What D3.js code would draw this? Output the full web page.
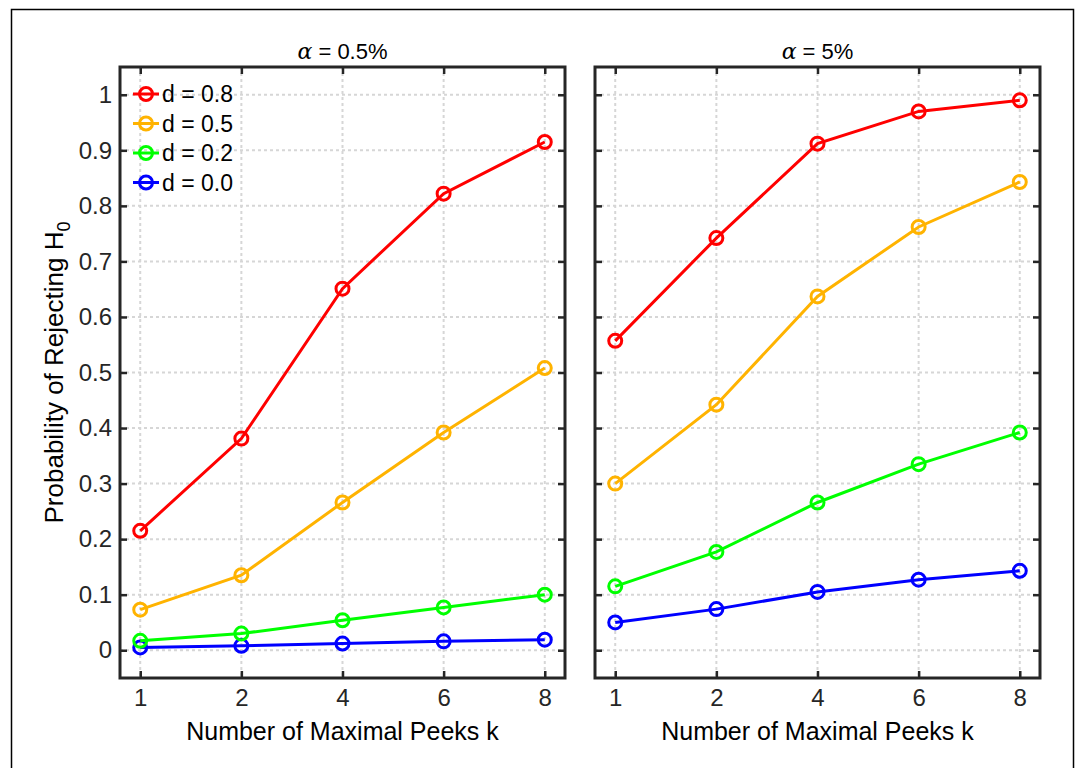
<!DOCTYPE html>
<html>
<head>
<meta charset="utf-8">
<script src="https://cdn.jsdelivr.net/npm/d3@7"></script>
<style>
  body { margin: 0; background: #fff; }
  svg { display: block; font-family: "Liberation Sans", Arial, Helvetica, sans-serif; }
  .tick text { fill: #262626; }
</style>
</head>
<body>
<script>
// x categories (equally spaced in the plot)
const kValues = [1, 2, 4, 6, 8];
const yTicks = [0, 0.1, 0.2, 0.3, 0.4, 0.5, 0.6, 0.7, 0.8, 0.9, 1];

const seriesNames = ["d = 0.8", "d = 0.5", "d = 0.2", "d = 0.0"];
const seriesColors = ["#ff0000", "#ffb300", "#00ff00", "#0000ff"];

// alpha = 0.5%
const a05_d08 = [0.215, 0.381, 0.651, 0.822, 0.915];
const a05_d05 = [0.073, 0.135, 0.266, 0.392, 0.508];
const a05_d02 = [0.017, 0.030, 0.054, 0.077, 0.100];
const a05_d00 = [0.005, 0.008, 0.012, 0.016, 0.019];

// alpha = 5%
const a5_d08 = [0.557, 0.742, 0.912, 0.970, 0.990];
const a5_d05 = [0.300, 0.442, 0.637, 0.762, 0.843];
const a5_d02 = [0.115, 0.177, 0.266, 0.335, 0.392];
const a5_d00 = [0.050, 0.074, 0.105, 0.127, 0.143];

const panels = [
  { title: "0.5%", series: [a05_d08, a05_d05, a05_d02, a05_d00], left: 120, first: true },
  { title: "5%", series: [a5_d08, a5_d05, a5_d02, a5_d00], left: 595, first: false }
];

const width = 1078, height = 768;
const plotW = 445, plotTop = 67, plotH = 611;
const axisColor = "#262626";

const svg = d3.select("body").append("svg")
  .attr("width", width)
  .attr("height", height);

// outer figure frame
svg.append("rect")
  .attr("x", 11.5).attr("y", 9.5)
  .attr("width", 1062).attr("height", 800)
  .attr("fill", "none").attr("stroke", "#000").attr("stroke-width", 1.5);

const y = d3.scaleLinear().domain([-0.05, 1.05]).range([plotH, 0]);
const yFmt = d => (d === 0 || d === 1) ? String(d) : d3.format(".1f")(d);

panels.forEach(p => {
  const x = d3.scalePoint().domain(kValues).range([0, plotW]).padding(0.2);
  const g = svg.append("g").attr("transform", `translate(${p.left},${plotTop})`);

  // grid
  const grid = g.append("g")
    .attr("stroke", "#d6d6d6").attr("stroke-width", 2)
    .attr("stroke-dasharray", "3,3");
  grid.selectAll(".gx").data(kValues).enter().append("line")
    .attr("x1", d => x(d)).attr("x2", d => x(d))
    .attr("y1", 0).attr("y2", plotH);
  grid.selectAll(".gy").data(yTicks).enter().append("line")
    .attr("x1", 0).attr("x2", plotW)
    .attr("y1", d => y(d)).attr("y2", d => y(d));

  // axes (ticks pointing in)
  const styleAxis = sel => {
    sel.attr("font-family", null);
    sel.select(".domain").remove();
    sel.selectAll(".tick line").attr("stroke", axisColor).attr("stroke-width", 2.5);
    sel.selectAll(".tick text").attr("font-size", 24);
  };
  g.append("g").attr("transform", `translate(0,${plotH})`)
    .call(d3.axisBottom(x).tickSizeInner(-7).tickSizeOuter(0).tickPadding(11))
    .call(styleAxis);
  g.append("g")
    .call(d3.axisTop(x).tickSizeInner(-7).tickSizeOuter(0).tickFormat(""))
    .call(styleAxis);
  g.append("g")
    .call(d3.axisLeft(y).tickValues(yTicks).tickFormat(p.first ? yFmt : "")
      .tickSizeInner(-7).tickSizeOuter(0).tickPadding(8))
    .call(styleAxis);
  g.append("g").attr("transform", `translate(${plotW},0)`)
    .call(d3.axisRight(y).tickValues(yTicks).tickFormat("").tickSizeInner(-7).tickSizeOuter(0))
    .call(styleAxis);

  g.append("rect")
    .attr("width", plotW).attr("height", plotH)
    .attr("fill", "none").attr("stroke", axisColor).attr("stroke-width", 3);

  // series: draw d = 0.0 first so the others sit on top
  const line = d3.line().x((d, i) => x(kValues[i])).y(d => y(d));
  const order = [3, 2, 1, 0];
  order.forEach(si => {
    const vals = p.series[si];
    const s = g.append("g");
    s.append("path").datum(vals)
      .attr("d", line)
      .attr("fill", "none").attr("stroke", seriesColors[si]).attr("stroke-width", 3);
    s.selectAll("circle").data(vals).enter().append("circle")
      .attr("cx", (d, i) => x(kValues[i])).attr("cy", d => y(d))
      .attr("r", 6.5)
      .attr("fill", "none").attr("stroke", seriesColors[si]).attr("stroke-width", 3);
  });

  // title
  const t = g.append("text")
    .attr("x", plotW / 2).attr("y", -8)
    .attr("text-anchor", "middle").attr("font-size", 22).attr("fill", "#000");
  t.append("tspan").attr("font-family", "'DejaVu Serif', 'Liberation Serif', serif")
    .attr("font-style", "italic").text("α");
  t.append("tspan").text(" = " + p.title);

  // x label
  g.append("text")
    .attr("x", plotW / 2).attr("y", plotH + 62)
    .attr("text-anchor", "middle").attr("font-size", 25).attr("fill", "#000")
    .text("Number of Maximal Peeks k");

  // legend
  if (p.first) {
    const lg = g.append("g").attr("transform", "translate(13,27)");
    seriesNames.forEach((name, i) => {
      const row = lg.append("g").attr("transform", `translate(0,${i * 29.5})`);
      row.append("line").attr("x1", 0).attr("x2", 26).attr("y1", 0).attr("y2", 0)
        .attr("stroke", seriesColors[i]).attr("stroke-width", 3);
      row.append("circle").attr("cx", 13).attr("cy", 0).attr("r", 6.5)
        .attr("fill", "none").attr("stroke", seriesColors[i]).attr("stroke-width", 3);
      row.append("text").attr("x", 29).attr("y", 8)
        .attr("font-size", 23).attr("fill", "#000").text(name);
    });
  }
});

// y label
const yl = svg.append("text")
  .attr("transform", `translate(63,${plotTop + plotH / 2}) rotate(-90)`)
  .attr("text-anchor", "middle").attr("font-size", 26).attr("fill", "#000");
yl.append("tspan").text("Probability of Rejecting H");
yl.append("tspan").attr("font-size", 18).attr("dy", 7).text("0");
</script>
</body>
</html>
